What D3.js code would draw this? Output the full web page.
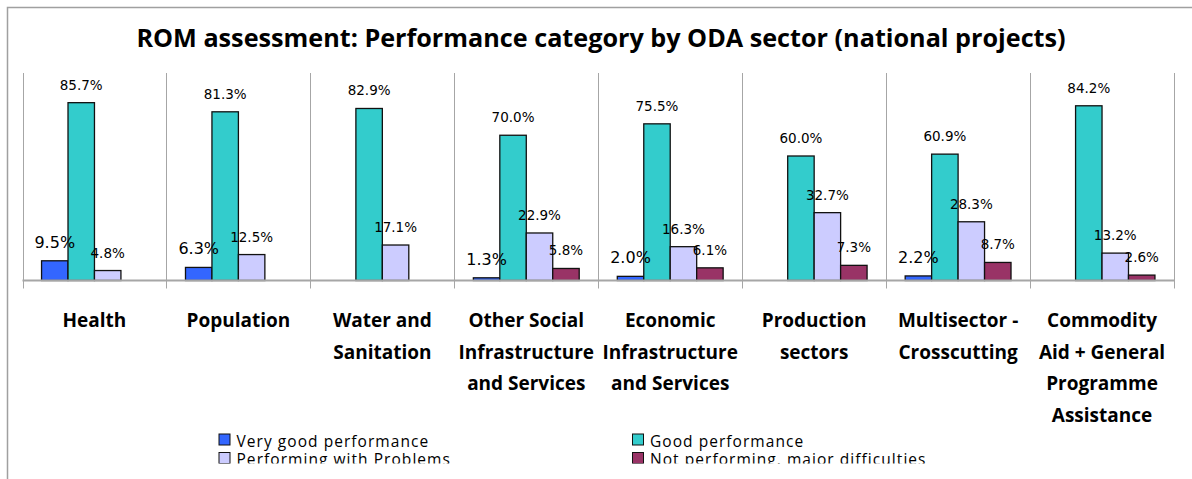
<!DOCTYPE html>
<html>
<head>
<meta charset="utf-8">
<script src="https://cdn.jsdelivr.net/npm/d3@7"></script>
<style>
  body { margin: 0; background: #fff; }
  svg { display: block; }
</style>
</head>
<body>
<svg id="chart"></svg>
<script>
// ROM assessment chart - grouped bars by ODA sector

var sectors = ["Health", "Population", "Water and Sanitation", "Other Social Infrastructure and Services",
    "Economic Infrastructure and Services", "Production sectors", "Multisector - Crosscutting",
    "Commodity Aid + General Programme Assistance"]
var sectorLines = [["Health"], ["Population"], ["Water and", "Sanitation"],
    ["Other Social", "Infrastructure", "and Services"], ["Economic", "Infrastructure", "and Services"],
    ["Production", "sectors"], ["Multisector -", "Crosscutting"],
    ["Commodity", "Aid + General", "Programme", "Assistance"]]
var categories = ["Very good performance", "Good performance", "Performing with Problems", "Not performing, major difficulties"]

// null = no bar / no label in the original
var veryGood   = [9.5, 6.3, null, 1.3, 2.0, null, 2.2, null]
var good       = [85.7, 81.3, 82.9, 70.0, 75.5, 60.0, 60.9, 84.2]
var problems   = [4.8, 12.5, 17.1, 22.9, 16.3, 32.7, 28.3, 13.2]
var notPerform = [null, null, null, 5.8, 6.1, 7.3, 8.7, 2.6]
var series = [veryGood, good, problems, notPerform]

var colors = ["#3366FF", "#33CCCC", "#CCCCFF", "#993366"]

var width = 1192, height = 479

var svg = d3.select("#chart")
    .attr("width", width)
    .attr("height", height)

// outer frame (top + left visible)
svg.append("path")
    .attr("d", "M7.5,479 V7.5 H1192")
    .attr("fill", "none")
    .attr("stroke", "#a0a0a0")
    .attr("stroke-width", 1.5)

svg.append("text")
    .attr("x", 601)
    .attr("y", 47)
    .attr("text-anchor", "middle")
    .style("font-family", "'Open Sans', sans-serif")
    .style("font-weight", "bold")
    .style("font-size", "25.2px")
    .attr("fill", "#000")
    .text("ROM assessment: Performance category by ODA sector (national projects)")

var x0 = d3.scaleBand()
    .domain(sectors)
    .range([22.5, 1174])
    .padding(0)

var x1 = d3.scaleBand()
    .domain(d3.range(categories.length))
    .range([0, x0.bandwidth()])
    .paddingInner(0)
    .paddingOuter(0.72)

var y = d3.scaleLinear()
    .domain([0, 100])
    .range([280.5, 73])

// vertical separators between sectors
var seps = d3.range(sectors.length + 1).map(function(i) {
    return i < sectors.length ? x0(sectors[i]) : x0(sectors[sectors.length - 1]) + x0.bandwidth()
})
svg.append("g").selectAll("line")
    .data(seps)
    .join("line")
    .attr("x1", d => Math.round(d) + 0.5)
    .attr("x2", d => Math.round(d) + 0.5)
    .attr("y1", y(100))
    .attr("y2", y(0) + 8)
    .attr("stroke", "#a6a6a6")
    .attr("stroke-width", 1)

// bars
var groups = svg.append("g").selectAll("g")
    .data(sectors)
    .join("g")
    .attr("transform", d => "translate(" + x0(d) + ",0)")

groups.each(function(sector, si) {
    var g = d3.select(this)
    series.forEach(function(vals, ci) {
        var v = vals[si]
        if (v == null) return
        g.append("rect")
            .attr("x", x1(ci))
            .attr("y", y(v))
            .attr("width", x1.bandwidth())
            .attr("height", y(0) - y(v))
            .attr("fill", colors[ci])
            .attr("stroke", "#111")
            .attr("stroke-width", 1.3)
    })
})

// x axis line
svg.append("line")
    .attr("x1", x0.range()[0])
    .attr("x2", x0.range()[1])
    .attr("y1", y(0))
    .attr("y2", y(0))
    .attr("stroke", "#a6a6a6")
    .attr("stroke-width", 2)

// data labels
groups.each(function(sector, si) {
    var g = d3.select(this)
    series.forEach(function(vals, ci) {
        var v = vals[si]
        if (v == null) return
        g.append("text")
            .attr("x", x1(ci) + x1.bandwidth() / 2)
            .attr("y", y(v) - 13)
            .attr("text-anchor", "middle")
            .style("font-family", "'DejaVu Sans', sans-serif")
            .style("font-size", ci == 0 ? "16px" : "13.5px")
            .attr("fill", "#000")
            .text(v.toFixed(1) + "%")
    })
})

// sector labels
groups.each(function(sector, si) {
    var t = d3.select(this).append("text")
        .attr("text-anchor", "middle")
        .style("font-family", "'Open Sans', sans-serif")
        .style("font-weight", "bold")
        .style("font-size", "19px")
        .attr("fill", "#000")
    sectorLines[si].forEach(function(line, li) {
        t.append("tspan")
            .attr("x", x0.bandwidth() / 2)
            .attr("y", 327 + li * 31.5)
            .text(line)
    })
})

// legend (bottom row is clipped like the original)
svg.append("clipPath").attr("id", "legclip")
    .append("rect").attr("x", 0).attr("y", 420).attr("width", width).attr("height", 43.5)

var legend = svg.append("g").attr("clip-path", "url(#legclip)")
var legPos = [[218.5, 446.5], [632, 446.5], [218.5, 465], [632, 465]]
legPos.forEach(function(p, ci) {
    legend.append("rect")
        .attr("x", p[0] + 0.5)
        .attr("y", p[1] - 12.5)
        .attr("width", 11)
        .attr("height", 11)
        .attr("fill", colors[ci])
        .attr("stroke", "#111")
        .attr("stroke-width", 1)
    legend.append("text")
        .attr("x", p[0] + 18)
        .attr("y", p[1])
        .style("font-family", "'Open Sans', sans-serif")
        .style("font-size", "15.5px")
        .style("letter-spacing", "1.05px")
        .attr("fill", "#000")
        .text(categories[ci])
})
</script>
</body>
</html>
